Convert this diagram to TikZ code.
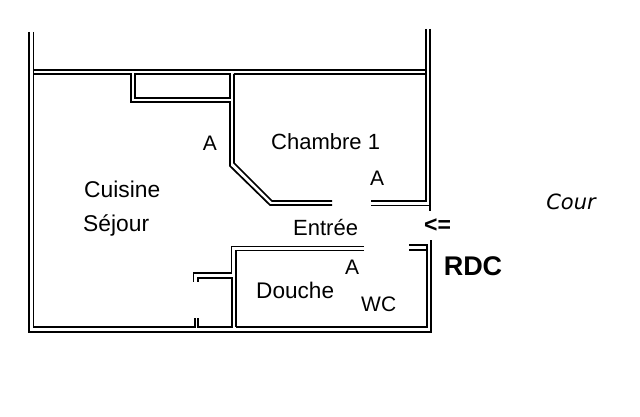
\documentclass[tikz,border=0pt]{standalone}
\usepackage{fontspec}
\setmainfont{Liberation Sans}
\newfontfamily\courfont{DejaVu Sans}
\usepackage{tikz}
\tikzset{
  wall/.style={draw, line width=1.7pt, line join=miter},
  piece/.style={font=\fontsize{22}{26}\selectfont, inner sep=0pt},
  lettre/.style={font=\fontsize{21}{24}\selectfont, inner sep=0pt}
}
\begin{document}
\begin{tikzpicture}[x=1pt, y=-1pt]
  \useasboundingbox (0,0) rectangle (640,417);

  % Outer walls
  \draw[wall] (29,32) -- (29,332) -- (431,332) -- (431,240);
  \draw[wall] (33.5,32) -- (33.5,327) -- (195,327) -- (195,318);
  \draw[wall] (198,318) -- (198,327) -- (232,327) -- (232,278) -- (198,278) -- (198,282);
  \draw[wall] (236,327) -- (427,327) -- (427,245) -- (409,245);
  \draw[wall] (409,250) -- (427,250);

  % Top wall
  \draw[wall] (33.5,70) -- (426,70);
  \draw[wall] (33.5,74) -- (131,74) -- (131,102) -- (230,102) -- (230,166) -- (270,205) -- (332,205);
  \draw[wall] (135,74) -- (135,98) -- (230,98) -- (230,74) -- cycle;
  \draw[wall] (234,74) -- (426,74);
  \draw[wall] (234,74) -- (234,163) -- (272,201) -- (332,201);

  % Right wall
  \draw[wall] (426,29) -- (426,201) -- (371,201);
  \draw[wall] (430,29) -- (430,211);
  \draw[wall] (371,205.5) -- (430,205.5);

  % Douche
  \draw[wall] (364,246.5) -- (231.5,246.5) -- (231.5,273) -- (193.5,273) -- (193.5,282);
  \draw[wall] (364,250.5) -- (236,250.5) -- (236,327);

  % Labels
  \node[piece, anchor=west, font=\fontsize{22.8}{26}\selectfont] (cuisine) at (84,189) {Cuisine};
  \node[piece, anchor=west, font=\fontsize{22.8}{26}\selectfont] (sejour) at (83,225) {Séjour};
  \node[piece, anchor=west] (chambre) at (271,142) {Chambre 1};
  \node[piece, anchor=west] (entree) at (293,228) {Entrée};
  \node[piece, anchor=west, font=\fontsize{22.6}{26}\selectfont] (douche) at (256,290) {Douche};
  \node[piece, anchor=west, font=\fontsize{21}{24}\selectfont] (wc) at (361,304) {WC};
  \node[lettre] (a1) at (210,143) {A};
  \node[lettre] (a2) at (377,178) {A};
  \node[lettre] (a3) at (352,267) {A};
  \node[font=\fontsize{23}{26}\selectfont\bfseries, inner sep=0pt] (entry) at (437.5,226) {<=};
  \node[font=\fontsize{27}{30}\selectfont\bfseries, inner sep=0pt] (rdc) at (473,266) {RDC};
  \node[font=\courfont\itshape\fontsize{21}{24}\selectfont, inner sep=0pt] (cour) at (571,202) {Cour};
\end{tikzpicture}
\end{document}
